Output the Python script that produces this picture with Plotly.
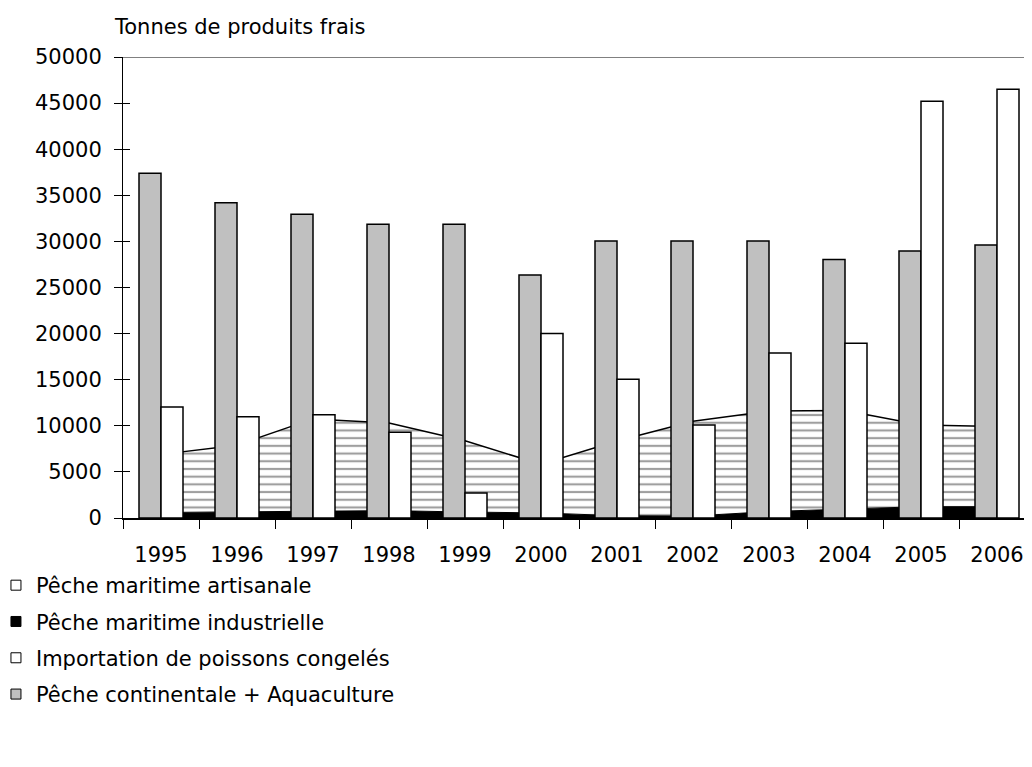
import plotly.graph_objects as go

years = ['1995', '1996', '1997', '1998', '1999', '2000',
         '2001', '2002', '2003', '2004', '2005', '2006']
continentale = [37400, 34200, 32950, 31850, 31850, 26350,
                30050, 30050, 30050, 28050, 28950, 29600]
importation = [12050, 10980, 11200, 9300, 2700, 20000,
               15050, 10100, 17900, 18950, 45200, 46500]
industrielle = [600, 650, 750, 800, 650, 550,
                250, 210, 700, 950, 1230, 1230]
artisanale = [6300, 7250, 10000, 9500, 7730, 5270,
              8100, 10290, 10900, 10700, 8870, 8690]
y_ticks = list(range(0, 50001, 5000))

names = {
    'art': 'Pêche maritime artisanale',
    'ind': 'Pêche maritime industrielle',
    'imp': 'Importation de poissons congelés',
    'con': 'Pêche continentale + Aquaculture',
}

FONT = 'DejaVu Sans'
fig = go.Figure()

# stacked areas on the main subplot (drawn underneath)
fig.add_trace(go.Scatter(
    x=years, y=industrielle, stackgroup='mar', mode='lines',
    line=dict(color='black', width=1), fillcolor='black',
    showlegend=False, hoverinfo='skip'))
fig.add_trace(go.Scatter(
    x=years, y=artisanale, stackgroup='mar', mode='lines',
    line=dict(color='black', width=1.5), fillcolor='white',
    fillpattern=dict(shape='-', fgcolor='#404040', bgcolor='white',
                     size=7.7, solidity=0.28),
    showlegend=False, hoverinfo='skip'))

# bars on the overlaying subplot (drawn on top)
fig.add_trace(go.Bar(
    x=years, y=continentale, name=names['con'], yaxis='y2',
    marker=dict(color='#C0C0C0', line=dict(color='black', width=1.5)),
    showlegend=False))
fig.add_trace(go.Bar(
    x=years, y=importation, name=names['imp'], yaxis='y2',
    marker=dict(color='white', line=dict(color='black', width=1.5)),
    showlegend=False))

# legend entries
leg = [('art', 'white', 1), ('ind', 'black', 2), ('imp', 'white', 3), ('con', '#C0C0C0', 4)]
for key, col, rank in leg:
    fig.add_trace(go.Scatter(
        x=[None], y=[None], mode='markers', name=names[key],
        legendgroup=key, legendrank=rank,
        marker=dict(symbol='square', size=10, color=col,
                    line=dict(color='black', width=1))))

fig.update_layout(
    width=1032, height=767,
    margin=dict(l=115, r=5, t=49, b=257, autoexpand=False),
    paper_bgcolor='white', plot_bgcolor='white',
    font=dict(family=FONT, size=21, color='black'),
    barmode='group', bargap=0.421, bargroupgap=0,
    showlegend=True,
    legend=dict(x=-0.1393, xanchor='left', y=-0.102, yanchor='top',
                orientation='v', traceorder='grouped', tracegroupgap=6,
                font=dict(family=FONT, size=21, color='black'),
                bgcolor='rgba(0,0,0,0)', itemclick=False),
    xaxis=dict(type='category', range=[-0.5, 11.5],
               showline=True, linecolor='black', linewidth=2,
               ticks='outside', ticklen=9, tickcolor='black', tickwidth=1,
               tickson='boundaries', showgrid=False, zeroline=False,
               ticklabelstandoff=17),
    yaxis=dict(range=[0, 50000], tickvals=y_ticks,
               ticktext=[str(v) for v in y_ticks],
               showline=True, linecolor='black', linewidth=1,
               ticks='outside', ticklen=8, tickcolor='black', tickwidth=1,
               showgrid=False, zeroline=False, ticklabelstandoff=8),
    yaxis2=dict(range=[0, 50000], tickvals=y_ticks, overlaying='y',
                side='left', anchor='x', showticklabels=False,
                ticks='inside', ticklen=7, tickcolor='black', tickwidth=1,
                showgrid=False, zeroline=False, showline=False),
    shapes=[dict(type='line', xref='paper', x0=0, x1=1, yref='y',
                 y0=50000, y1=50000, line=dict(color='#808080', width=2))],
    annotations=[dict(text='Tonnes de produits frais', xref='paper',
                      yref='paper', x=-0.012, y=1.065, xanchor='left',
                      yanchor='middle', showarrow=False,
                      font=dict(family=FONT, size=21, color='black'))],
)

fig.write_html('out.html')
